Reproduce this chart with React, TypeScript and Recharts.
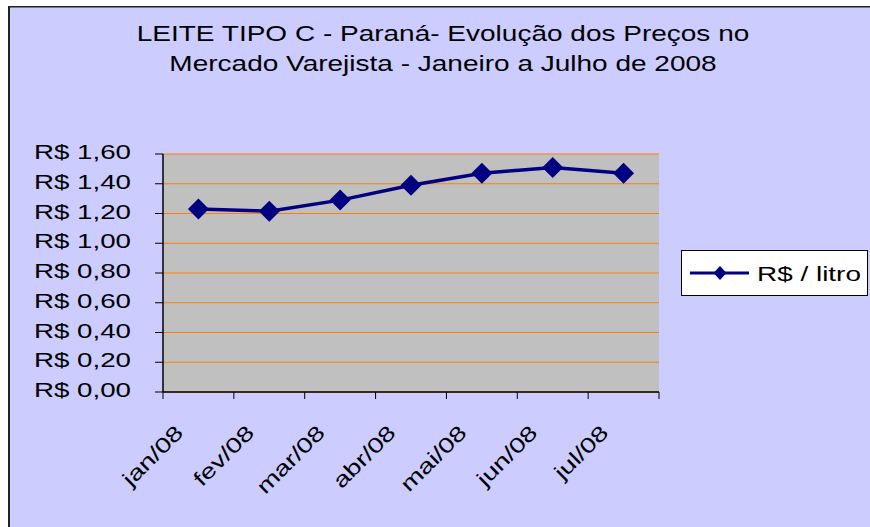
import React from 'react'
import {
  LineChart,
  Line,
  XAxis,
  YAxis,
  CartesianGrid
} from 'recharts'

const months = ['jan/08', 'fev/08', 'mar/08', 'abr/08', 'mai/08', 'jun/08', 'jul/08']
const prices = [1.23, 1.215, 1.29, 1.39, 1.47, 1.51, 1.47]
const yTicks = [0, 0.2, 0.4, 0.6, 0.8, 1.0, 1.2, 1.4, 1.6]
const seriesName = 'R$ / litro'
const titleLines = [
  'LEITE TIPO C - Paraná- Evolução dos Preços no',
  'Mercado Varejista - Janeiro a Julho de 2008'
]

const W = 862
const H = 521
const MARGIN = { top: 148, right: 211, left: 0, bottom: 0 }
const Y_AXIS_W = 155
const PLOT_W = W - MARGIN.right - Y_AXIS_W
const BAND = PLOT_W / months.length

const FONT = '"Liberation Sans", Arial, sans-serif'
const SX = 1.32 // text in the source is drawn wide
const NAVY = '#000080'

const data = months.map((month, i) => ({ month, preco: prices[i] }))

const fmtBRL = (v: number) => 'R$ ' + v.toFixed(2).replace('.', ',')

function YTick({ x, y, payload }: any) {
  return (
    <text
      transform={`translate(${x},${y + 5}) scale(${SX},1)`}
      textAnchor="end"
      fontFamily={FONT}
      fontSize={21}
      fill="#000"
    >
      {fmtBRL(payload.value)}
    </text>
  )
}

function XTick({ x, y, payload, index }: any) {
  const last = index === months.length - 1
  return (
    <g>
      <line x1={x - BAND / 2} x2={x - BAND / 2} y1={y} y2={y + 7} stroke="#000" />
      {last && <line x1={x + BAND / 2} x2={x + BAND / 2} y1={y} y2={y + 7} stroke="#000" />}
      <text
        transform={`translate(${x - 14},${y + 42}) rotate(-45) scale(${SX},1)`}
        textAnchor="end"
        fontFamily={FONT}
        fontSize={21}
        fill="#000"
      >
        {payload.value}
      </text>
    </g>
  )
}

function Diamond({ cx, cy, index }: any) {
  const r = 10.5
  return (
    <polygon
      key={`d-${index}`}
      points={`${cx},${cy - r} ${cx + r},${cy} ${cx},${cy + r} ${cx - r},${cy}`}
      fill={NAVY}
      stroke="none"
    />
  )
}

function LegendBox() {
  return (
    <svg
      width={188}
      height={47}
      style={{ position: 'absolute', left: 673, top: 244 }}
    >
      <rect x={0.5} y={0.5} width={186} height={45} fill="#fff" stroke="#000" />
      <line x1={9} x2={68} y1={23} y2={23} stroke={NAVY} strokeWidth={3} />
      <polygon points="39,16 45.5,23 39,30 32.5,23" fill={NAVY} />
      <text
        transform={`translate(76,31) scale(1.33,1)`}
        fontFamily={FONT}
        fontSize={21}
        fill="#000"
      >
        {seriesName}
      </text>
    </svg>
  )
}

export default function App() {
  return (
    <div
      style={{
        position: 'fixed',
        left: 8,
        top: 6,
        width: W + 20,
        height: H + 20,
        background: '#CCCCFF',
        overflow: 'hidden'
      }}
    >
      <LineChart width={W} height={H} data={data} margin={MARGIN}>
        <CartesianGrid
          vertical={false}
          stroke="#FF8000"
          fill="#C0C0C0"
          fillOpacity={1}
        />
        {/* gray frame on the top and right of the plot */}
        <XAxis
          xAxisId="top"
          orientation="top"
          dataKey="month"
          height={0}
          tick={false}
          tickLine={false}
          axisLine={{ stroke: '#808080', strokeWidth: 1.5 }}
        />
        <YAxis
          yAxisId="right"
          orientation="right"
          width={0}
          domain={[0, 1.6]}
          tick={false}
          tickLine={false}
          axisLine={{ stroke: '#808080', strokeWidth: 1.5 }}
        />
        <XAxis
          dataKey="month"
          height={135}
          interval={0}
          padding={{ left: BAND / 2, right: BAND / 2 }}
          tickSize={0}
          tickMargin={0}
          tickLine={false}
          axisLine={{ stroke: '#000', strokeWidth: 1.5 }}
          tick={<XTick />}
        />
        <YAxis
          width={Y_AXIS_W}
          domain={[0, 1.6]}
          ticks={yTicks}
          interval={0}
          tickSize={8}
          tickMargin={24}
          tickLine={{ stroke: '#000' }}
          axisLine={{ stroke: '#000', strokeWidth: 1.5 }}
          tick={<YTick />}
        />
        <Line
          type="linear"
          dataKey="preco"
          name={seriesName}
          stroke={NAVY}
          strokeWidth={3.5}
          dot={(p: any) => <Diamond key={`dot-${p.index}`} {...p} />}
          activeDot={false}
          isAnimationActive={false}
        />
      </LineChart>

      {/* title and the outer frame */}
      <svg
        width={W + 20}
        height={H + 20}
        style={{ position: 'absolute', left: 0, top: 0, pointerEvents: 'none' }}
      >
        <rect x={0} y={0} width={2} height={H + 20} fill="#222" />
        <rect x={0} y={0} width={W + 20} height={1.5} fill="#222" />
        {titleLines.map((t, i) => (
          <text
            key={i}
            transform={`translate(435,${35 + i * 30.3}) scale(1.245,1)`}
            textAnchor="middle"
            fontFamily={FONT}
            fontSize={22.5}
            fill="#000"
          >
            {t}
          </text>
        ))}
      </svg>

      <LegendBox />
    </div>
  )
}
